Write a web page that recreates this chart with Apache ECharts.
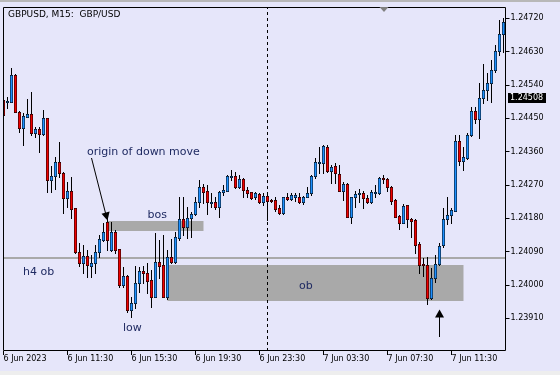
<!DOCTYPE html>
<html><head><meta charset="utf-8">
<script src="https://cdn.jsdelivr.net/npm/echarts@6/dist/echarts.min.js"></script>
<style>html,body{margin:0;padding:0;background:#E6E6FA}#c{width:560px;height:375px}</style>
</head><body><div id="c"></div>
<script>
// ---- data (GBPUSD M15, 6 Jun 2023 07:30 onward) ----
const tickLabels = ["6 Jun 2023","6 Jun 11:30","6 Jun 15:30","6 Jun 19:30","6 Jun 23:30","7 Jun 03:30","7 Jun 07:30","7 Jun 11:30"];
const priceTicks = [1.2391,1.2400,1.2409,1.2418,1.2427,1.2436,1.2445,1.2454,1.2463,1.2472];
const opens = [1.24500,1.24495,1.24495,1.24567,1.24468,1.24423,1.24454,1.24462,1.24410,1.24421,
 1.24408,1.24450,1.24284,1.24294,1.24331,1.24302,1.24234,1.24254,1.24207,1.24090,
 1.24060,1.24078,1.24051,1.24059,1.24090,1.24122,1.24171,1.24095,1.24144,1.24096,
 1.24000,1.24024,1.23933,1.23951,1.24005,1.24038,1.24032,1.24014,1.23968,1.24061,
 1.24054,1.23968,1.24075,1.24061,1.24126,1.24177,1.24157,1.24180,1.24192,1.24223,
 1.24264,1.24255,1.24221,1.24223,1.24210,1.24252,1.24255,1.24292,1.24295,1.24264,
 1.24286,1.24257,1.24250,1.24237,1.24246,1.24225,1.24240,1.24230,1.24230,1.24207,
 1.24194,1.24237,1.24231,1.24238,1.24238,1.24223,1.24238,1.24249,1.24294,1.24329,
 1.24329,1.24373,1.24309,1.24321,1.24300,1.24255,1.24273,1.24184,1.24237,1.24246,
 1.24249,1.24234,1.24225,1.24248,1.24248,1.24288,1.24285,1.24265,1.24230,1.24186,
 1.24168,1.24215,1.24177,1.24176,1.24110,1.24056,1.24054,1.23964,1.24018,1.24056,
 1.24108,1.24177,1.24189,1.24201,1.24390,1.24336,1.24342,1.24405,1.24471,1.24447,
 1.24504,1.24527,1.24546,1.24581,1.24633,1.24678];
const highs = [1.24508,1.24507,1.24585,1.24570,1.24470,1.24464,1.24501,1.24520,1.24427,1.24427,
 1.24472,1.24451,1.24321,1.24346,1.24387,1.24305,1.24279,1.24292,1.24208,1.24114,
 1.24108,1.24095,1.24081,1.24108,1.24135,1.24167,1.24180,1.24171,1.24149,1.24097,
 1.24049,1.24026,1.23968,1.24051,1.24049,1.24051,1.24059,1.24041,1.24141,1.24122,
 1.24135,1.24095,1.24123,1.24144,1.24238,1.24237,1.24211,1.24198,1.24237,1.24284,
 1.24273,1.24270,1.24248,1.24238,1.24254,1.24270,1.24297,1.24311,1.24306,1.24297,
 1.24289,1.24265,1.24251,1.24250,1.24249,1.24248,1.24248,1.24231,1.24238,1.24216,
 1.24238,1.24249,1.24249,1.24248,1.24249,1.24239,1.24265,1.24297,1.24342,1.24373,
 1.24378,1.24378,1.24324,1.24329,1.24324,1.24279,1.24276,1.24238,1.24255,1.24258,
 1.24255,1.24243,1.24257,1.24270,1.24292,1.24297,1.24288,1.24266,1.24231,1.24188,
 1.24219,1.24216,1.24180,1.24177,1.24117,1.24072,1.24076,1.24045,1.24081,1.24113,
 1.24207,1.24237,1.24207,1.24405,1.24405,1.24373,1.24410,1.24480,1.24480,1.24546,
 1.24597,1.24572,1.24608,1.24648,1.24716,1.24720];
const lows = [1.24454,1.24478,1.24494,1.24467,1.24414,1.24378,1.24453,1.24405,1.24400,1.24360,
 1.24406,1.24252,1.24252,1.24258,1.24292,1.24195,1.24211,1.24180,1.24087,1.24051,
 1.24032,1.24021,1.24021,1.24032,1.24076,1.24119,1.24095,1.24093,1.24086,1.23995,
 1.23995,1.23928,1.23913,1.23937,1.23982,1.24006,1.23979,1.23941,1.23967,1.24018,
 1.23967,1.23961,1.24059,1.24059,1.24122,1.24135,1.24126,1.24130,1.24190,1.24211,
 1.24221,1.24192,1.24211,1.24204,1.24183,1.24243,1.24254,1.24284,1.24263,1.24263,
 1.24238,1.24238,1.24231,1.24231,1.24221,1.24216,1.24176,1.24225,1.24201,1.24193,
 1.24193,1.24230,1.24230,1.24228,1.24221,1.24219,1.24237,1.24243,1.24288,1.24302,
 1.24302,1.24306,1.24275,1.24275,1.24254,1.24230,1.24183,1.24168,1.24211,1.24225,
 1.24207,1.24222,1.24222,1.24238,1.24247,1.24276,1.24255,1.24219,1.24183,1.24150,
 1.24167,1.24156,1.24130,1.24086,1.24033,1.24024,1.23949,1.23963,1.24009,1.24054,
 1.24103,1.24165,1.24167,1.24200,1.24324,1.24310,1.24340,1.24402,1.24437,1.24396,
 1.24491,1.24500,1.24495,1.24576,1.24621,1.24630];
const closes = [1.24459,1.24497,1.24567,1.24468,1.24423,1.24456,1.24462,1.24410,1.24421,1.24408,
 1.24450,1.24284,1.24294,1.24331,1.24302,1.24234,1.24254,1.24204,1.24090,1.24060,
 1.24079,1.24054,1.24059,1.24090,1.24124,1.24144,1.24122,1.24144,1.24095,1.24000,
 1.24024,1.23933,1.23952,1.24005,1.24038,1.24032,1.24012,1.23968,1.24061,1.24052,
 1.23968,1.24075,1.24061,1.24129,1.24177,1.24157,1.24180,1.24192,1.24223,1.24264,
 1.24252,1.24223,1.24225,1.24210,1.24252,1.24257,1.24295,1.24295,1.24264,1.24286,
 1.24257,1.24249,1.24234,1.24248,1.24223,1.24241,1.24228,1.24227,1.24205,1.24194,
 1.24237,1.24231,1.24243,1.24243,1.24223,1.24238,1.24249,1.24294,1.24333,1.24333,
 1.24375,1.24309,1.24319,1.24302,1.24255,1.24273,1.24184,1.24237,1.24246,1.24248,
 1.24234,1.24225,1.24252,1.24251,1.24288,1.24286,1.24265,1.24228,1.24184,1.24168,
 1.24213,1.24177,1.24174,1.24108,1.24054,1.24053,1.23964,1.24018,1.24056,1.24105,
 1.24177,1.24189,1.24203,1.24390,1.24336,1.24345,1.24405,1.24471,1.24447,1.24504,
 1.24527,1.24546,1.24581,1.24633,1.24678,1.24711];
// annotation objects (bar index / price)
const bosZone = {from: 26, to: 50, top: 1.24173, bottom: 1.24146};
const obZone  = {from: 41, to: 115, top: 1.24054, bottom: 1.23957};
const h4Level = 1.24073;
const daySeparator = 66;
const lastPrice = "1.24508";

// categories: 15-minute bars
const categories = [];
for (let i = 0; i < opens.length; i++) {
  const m = 7 * 60 + 30 + i * 15;
  const d = m >= 1440 ? 7 : 6, mm = m % 1440;
  categories.push(d + " Jun " + String(Math.floor(mm / 60)).padStart(2, "0") + ":" + String(mm % 60).padStart(2, "0"));
}
const candleData = opens.map((o, i) => [i, o, closes[i], lows[i], highs[i]]);

const UP = '#1E90FF', DOWN = '#F00000';
function renderCandle(params, api) {
  const i = api.value(0), o = api.value(1), c = api.value(2), l = api.value(3), h = api.value(4);
  const pO = api.coord([i, o]), pC = api.coord([i, c]), pL = api.coord([i, l]), pH = api.coord([i, h]);
  const cx = Math.floor(pO[0]) + 0.5;
  const y0 = Math.round(Math.min(pO[1], pC[1]));
  const y1 = Math.round(Math.max(pO[1], pC[1])) + 1;
  const fill = c > o ? UP : (c < o ? DOWN : '#000');
  const children = [
    {type: 'line', shape: {x1: cx, y1: Math.round(pH[1]), x2: cx, y2: Math.round(pL[1]) + 1}, style: {stroke: '#000', lineWidth: 1}},
    {type: 'rect', shape: {x: cx - 1.5, y: y0, width: 3, height: y1 - y0}, style: {fill: '#000'}}
  ];
  if (y1 - y0 > 1.5) {
    children.push({type: 'rect', shape: {x: cx - 1, y: y0 + 0.6, width: 2, height: y1 - y0 - 1.2}, style: {fill: fill}});
  }
  return {type: 'group', children: children};
}

const FONT = '"DejaVu Sans", sans-serif';
const TXT = '#1f2a62';
const chart = echarts.init(document.getElementById('c'), null, {renderer: 'canvas'});
chart.setOption({
  animation: false,
  backgroundColor: '#E6E6FA',
  grid: {left: 1.5, top: 7, width: 504, height: 344},
  xAxis: {
    type: 'category', data: categories, boundaryGap: true,
    axisLine: {show: false},
    axisTick: {show: true, interval: 15, alignWithLabel: true, length: 4, lineStyle: {color: '#000'}},
    axisLabel: {interval: 15, align: 'left', margin: 4, fontSize: 8, fontFamily: FONT, color: '#000',
      formatter: (v, i) => tickLabels[i / 16] || ''},
    splitLine: {show: false}
  },
  yAxis: {
    type: 'value', position: 'right', min: 1.238218, max: 1.247506, scale: true,
    axisLine: {show: false},
    axisTick: {show: true, customValues: priceTicks, length: 4, lineStyle: {color: '#000'}},
    axisLabel: {customValues: priceTicks, margin: 5, fontSize: 8, fontFamily: FONT, color: '#000',
      formatter: v => v.toFixed(5)},
    splitLine: {show: false}
  },
  series: [
    {
      type: 'line', data: [], z: 1, silent: true,
      markArea: {silent: true, z: 1, itemStyle: {color: '#a9a9a9', opacity: 1},
        data: [
          [{xAxis: categories[bosZone.from], yAxis: bosZone.top}, {xAxis: categories[bosZone.to], yAxis: bosZone.bottom}],
          [{xAxis: categories[obZone.from], yAxis: obZone.top}, {xAxis: categories[obZone.to], yAxis: obZone.bottom}]
        ]},
      markLine: {silent: true, z: 1, symbol: 'none', precision: 5, label: {show: false},
        data: [
          {yAxis: h4Level, lineStyle: {color: '#a9a9a9', width: 2, type: 'solid'}},
          {xAxis: categories[daySeparator], lineStyle: {color: '#000', width: 1, type: [3, 3]}}
        ]}
    },
    {
      type: 'custom', data: candleData, z: 2, clip: true, silent: true,
      encode: {x: 0, y: [1, 2, 3, 4]},
      renderItem: renderCandle
    }
  ],
  graphic: [
    {type: 'rect', z: 50, shape: {x: 0, y: 0, width: 560, height: 2}, style: {fill: '#b8b8b8'}},
    {type: 'rect', z: 50, shape: {x: 0, y: 371, width: 560, height: 4}, style: {fill: '#eeeeee'}},
    {type: 'rect', z: 50, shape: {x: 0, y: 6, width: 3, height: 346}, style: {fill: '#E6E6FA'}},
    {type: 'rect', z: 60, shape: {x: 3.5, y: 7.5, width: 502, height: 343}, style: {fill: null, stroke: '#000', lineWidth: 1}},
    {type: 'polygon', z: 60, shape: {points: [[379.5, 7], [388.5, 7], [384, 12]]}, style: {fill: '#808080'}},
    {type: 'text', z: 60, style: {text: 'GBPUSD, M15:  GBP/USD', x: 8, y: 15, font: '9px ' + FONT, fill: '#000', verticalAlign: 'middle'}},
    {type: 'text', z: 60, style: {text: 'origin of down move', x: 87, y: 152, font: '11px ' + FONT, fill: TXT, verticalAlign: 'middle'}},
    {type: 'text', z: 60, style: {text: 'bos', x: 147.5, y: 215, font: '11px ' + FONT, fill: TXT, verticalAlign: 'middle'}},
    {type: 'text', z: 60, style: {text: 'h4 ob', x: 23, y: 272, font: '11px ' + FONT, fill: TXT, verticalAlign: 'middle'}},
    {type: 'text', z: 60, style: {text: 'ob', x: 299, y: 286, font: '11px ' + FONT, fill: TXT, verticalAlign: 'middle'}},
    {type: 'text', z: 60, style: {text: 'low', x: 123, y: 328.5, font: '11px ' + FONT, fill: TXT, verticalAlign: 'middle'}},
    {type: 'line', z: 60, shape: {x1: 91.5, y1: 158, x2: 106, y2: 215}, style: {stroke: '#000', lineWidth: 1}},
    {type: 'polygon', z: 60, shape: {points: [[107.5, 220.5], [109.6, 211.6], [101.5, 213.8]]}, style: {fill: '#000'}},
    {type: 'line', z: 60, shape: {x1: 439.5, y1: 316, x2: 439.5, y2: 337}, style: {stroke: '#000', lineWidth: 1}},
    {type: 'polygon', z: 60, shape: {points: [[439.5, 309.5], [435, 317.5], [444, 317.5]]}, style: {fill: '#000'}},
    {type: 'rect', z: 60, shape: {x: 508, y: 93, width: 38, height: 10}, style: {fill: '#000'}},
    {type: 'text', z: 61, style: {text: lastPrice, x: 510, y: 98, font: '8px ' + FONT, fill: '#fff', verticalAlign: 'middle'}}
  ]
});
</script></body></html>
